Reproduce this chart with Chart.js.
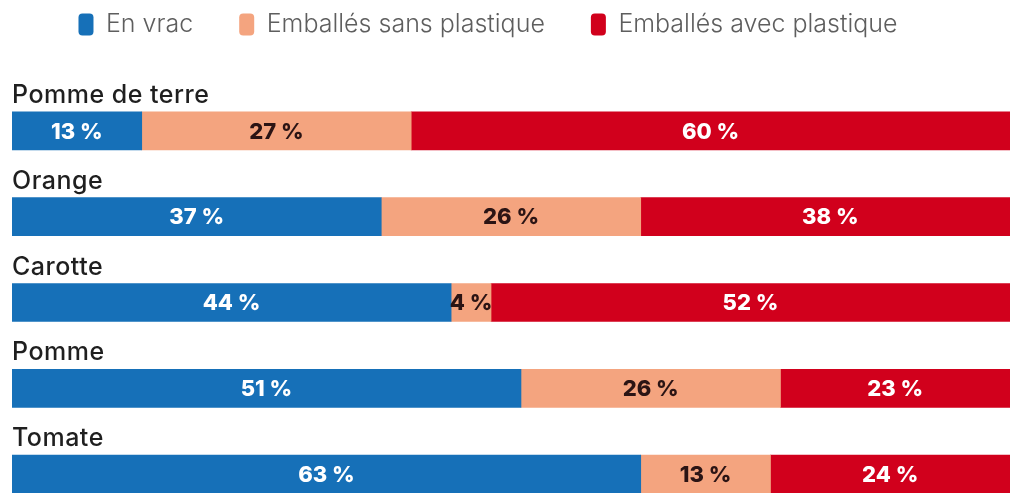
<!DOCTYPE html>
<html>
<head>
    <title>Emballage des fruits et légumes</title>
    <script src="https://cdn.jsdelivr.net/npm/chart.js"></script>
    <style>
        html, body { margin: 0; padding: 0; background: #fff; overflow: hidden; }
        #wrap { width: 1010px; height: 520px; }
    </style>
</head>
<body>
    <div id="wrap"><canvas id="packChart" width="1010" height="520"></canvas></div>

    <script>
        const produits = ['Pomme de terre', 'Orange', 'Carotte', 'Pomme', 'Tomate'];
        const enVrac = [13, 37, 44, 51, 63];
        const sansPlastique = [27, 26, 4, 26, 13];
        const avecPlastique = [60, 38, 52, 23, 24];

        const labelColors = ['#ffffff', '#2b1414', '#ffffff'];

        const barLabels = {
            id: 'barLabels',
            // legend sits a bit left of centre in the original
            afterLayout(chart) {
                chart.legend.left -= 23;
                chart.legend.right -= 23;
            },
            afterDatasetsDraw(chart) {
                const ctx = chart.ctx;
                ctx.save();
                ctx.textBaseline = 'middle';
                ctx.textAlign = 'center';
                ctx.font = '800 22px Inter, "DejaVu Sans", sans-serif';
                chart.data.datasets.forEach((ds, i) => {
                    chart.getDatasetMeta(i).data.forEach((bar, j) => {
                        ctx.fillStyle = labelColors[i];
                        ctx.fillText(ds.data[j] + ' %', (bar.x + bar.base) / 2, bar.y + 1);
                    });
                });
                // product names above each bar
                ctx.textAlign = 'left';
                ctx.textBaseline = 'alphabetic';
                ctx.font = '500 25px Inter, "DejaVu Sans", sans-serif';
                ctx.letterSpacing = '0.5px';
                ctx.fillStyle = '#1f1f1f';
                chart.getDatasetMeta(0).data.forEach((bar, j) => {
                    ctx.fillText(produits[j], chart.chartArea.left, bar.y - bar.height / 2 - 9);
                });
                ctx.restore();
            }
        };

        new Chart(document.getElementById('packChart'), {
            type: 'bar',
            data: {
                labels: produits,
                datasets: [
                    { label: 'En vrac', data: enVrac, backgroundColor: '#1670b8' },
                    { label: 'Emballés sans plastique', data: sansPlastique, backgroundColor: '#f4a47f' },
                    { label: 'Emballés avec plastique', data: avecPlastique, backgroundColor: '#d1001c' }
                ]
            },
            options: {
                indexAxis: 'y',
                responsive: false,
                animation: false,
                barThickness: 38,
                layout: { padding: { left: 12, right: 0, top: -34, bottom: 3 } },
                scales: {
                    x: {
                        stacked: true, min: 0, max: 100, position: 'top',
                        grid: { display: false }, border: { display: false },
                        ticks: { display: false },
                        afterFit(scale) { scale.height = 41; }
                    },
                    y: { stacked: true, display: false }
                },
                plugins: {
                    tooltip: { enabled: false },
                    legend: {
                        position: 'top',
                        align: 'center',
                        labels: {
                            boxWidth: 15,
                            boxHeight: 22,
                            useBorderRadius: true,
                            borderRadius: 4,
                            padding: 46,
                            color: '#5e5e5e',
                            font: { family: 'Inter, "DejaVu Sans", sans-serif', size: 25, weight: '300' }
                        }
                    }
                }
            },
            plugins: [barLabels]
        });
    </script>
</body>
</html>
